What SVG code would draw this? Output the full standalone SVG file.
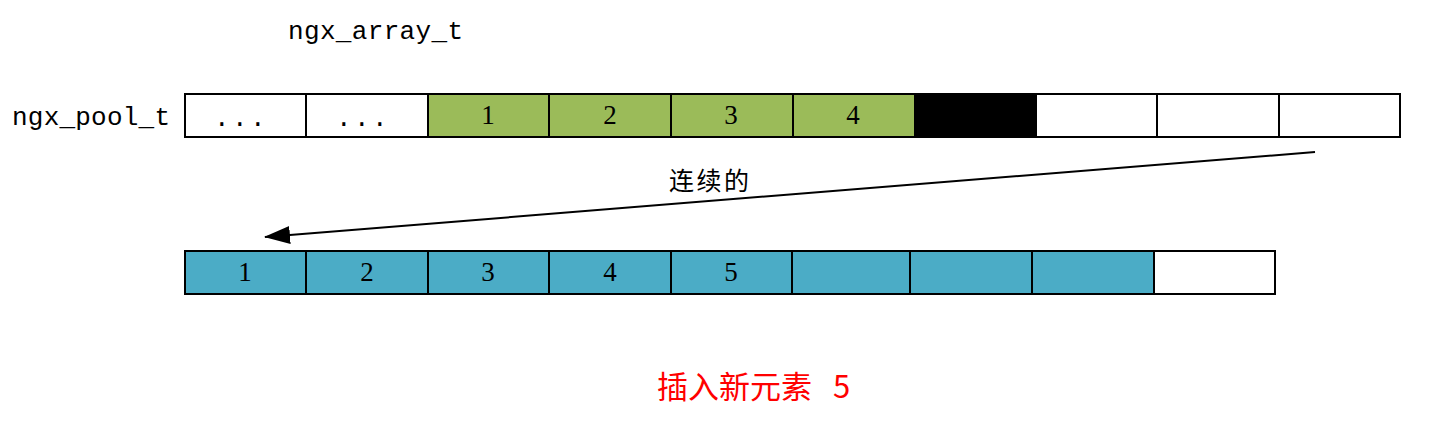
<svg xmlns="http://www.w3.org/2000/svg" width="1438" height="442" viewBox="0 0 1438 442">
<defs>
<style>
.c{stroke:#000;stroke-width:2}
.w{fill:#fff}.g{fill:#9BBB59}.k{fill:#000}.b{fill:#4BACC6}
.t{font-family:"Liberation Serif","DejaVu Serif",serif;font-size:27px;text-anchor:middle;fill:#000}
.m{font-family:"Liberation Mono","DejaVu Sans Mono",monospace;font-size:26px;fill:#000}
.d{letter-spacing:2.4px}
.cj{font-family:"Noto Sans CJK SC",sans-serif;font-size:25px;fill:#000}
.r{font-family:"Noto Sans CJK SC",sans-serif;font-size:31px;fill:#f00}
</style>
<marker id="ah" markerWidth="26" markerHeight="18" refX="25" refY="9" orient="auto" markerUnits="userSpaceOnUse">
<path d="M0,0 L26,9 L0,18 Z" fill="#000"/>
</marker>
</defs>
<text class="m" x="288" y="39" textLength="175">ngx_array_t</text>
<text class="m" x="12" y="125" textLength="158">ngx_pool_t</text>
<g id="pool">
<g id="p1"><rect class="c w" x="185" y="94" width="121" height="43"/><text class="m d" x="214" y="126">...</text></g>
<g id="p2"><rect class="c w" x="306" y="94" width="122" height="43"/><text class="m d" x="336" y="126">...</text></g>
<g id="p3"><rect class="c g" x="428" y="94" width="121" height="43"/><text class="t" x="488" y="124">1</text></g>
<g id="p4"><rect class="c g" x="549" y="94" width="122" height="43"/><text class="t" x="610" y="124">2</text></g>
<g id="p5"><rect class="c g" x="671" y="94" width="122" height="43"/><text class="t" x="731" y="124">3</text></g>
<g id="p6"><rect class="c g" x="793" y="94" width="122" height="43"/><text class="t" x="853" y="124">4</text></g>
<g id="p7"><rect class="c k" x="915" y="94" width="121" height="43"/></g>
<g id="p8"><rect class="c w" x="1036" y="94" width="121" height="43"/></g>
<g id="p9"><rect class="c w" x="1157" y="94" width="122" height="43"/></g>
<g id="p10"><rect class="c w" x="1279" y="94" width="121" height="43"/></g>
</g>
<g id="arr">
<g id="a1"><rect class="c b" x="185" y="251" width="121" height="43"/><text class="t" x="245" y="281">1</text></g>
<g id="a2"><rect class="c b" x="306" y="251" width="122" height="43"/><text class="t" x="367" y="281">2</text></g>
<g id="a3"><rect class="c b" x="428" y="251" width="121" height="43"/><text class="t" x="488" y="281">3</text></g>
<g id="a4"><rect class="c b" x="549" y="251" width="122" height="43"/><text class="t" x="610" y="281">4</text></g>
<g id="a5"><rect class="c b" x="671" y="251" width="121" height="43"/><text class="t" x="731" y="281">5</text></g>
<g id="a6"><rect class="c b" x="792" y="251" width="118" height="43"/></g>
<g id="a7"><rect class="c b" x="910" y="251" width="122" height="43"/></g>
<g id="a8"><rect class="c b" x="1032" y="251" width="122" height="43"/></g>
<g id="a9"><rect class="c w" x="1154" y="251" width="121" height="43"/></g>
</g>
<g id="connectors">
<line x1="1315" y1="152" x2="265" y2="237" stroke="#000" stroke-width="2" marker-end="url(#ah)"/>
</g>
<text class="cj" x="669" y="190" textLength="80">连续的</text>
<text class="r" x="657" y="398">插入新元素 <tspan x="833">5</tspan></text>
</svg>
